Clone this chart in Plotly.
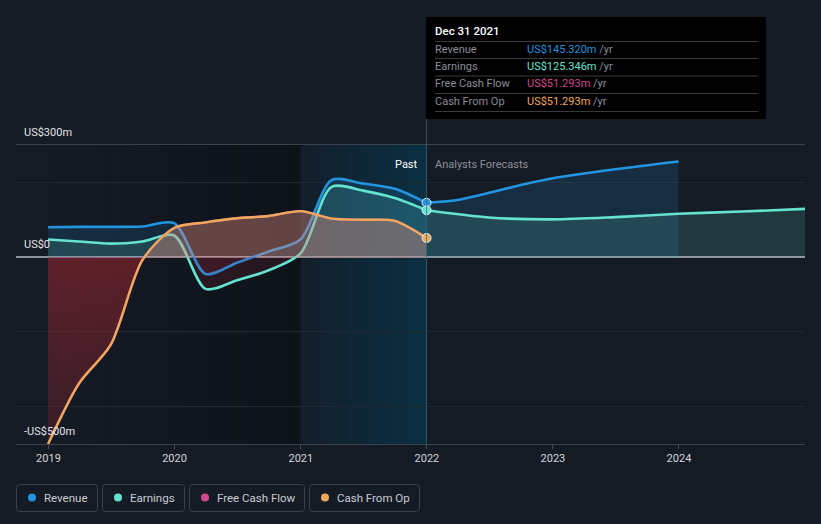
import plotly.graph_objects as go
import pandas as pd

# ---------------- data (US$ millions) ----------------
past_dates = ["2018-12-31", "2019-03-31", "2019-06-30", "2019-09-30", "2019-12-31",
              "2020-03-31", "2020-06-30", "2020-09-30", "2020-12-31",
              "2021-03-31", "2021-06-30", "2021-09-30", "2021-12-31"]
revenue_past = [80, 81, 81, 82, 91, -45, -15, 15, 47, 206, 197, 183, 145.320]
earnings_past = [47, 42, 36, 42, 58, -85, -62, -35, 10, 188, 178, 158, 125.346]
fcf_past = [-500, -337, -235, -8, 78, 93, 104, 110, 123, 103, 100, 97, 51.293]
cfo_past = [-500, -337, -235, -8, 78, 93, 104, 110, 123, 103, 100, 97, 51.293]

rev_fc_dates = ["2021-12-31", "2022-03-31", "2022-06-30", "2022-09-30", "2022-12-31",
                "2023-06-30", "2023-12-31"]
revenue_fc = [145.320, 153, 172, 193, 211, 235, 256]
earn_fc_dates = ["2021-12-31", "2022-06-30", "2022-12-31", "2023-06-30", "2023-12-31",
                 "2024-06-30", "2024-12-31"]
earnings_fc = [125.346, 106, 101, 107, 116, 122, 129]

year_ticks = ["2019-01-01", "2020-01-01", "2021-01-01", "2022-01-01", "2023-01-01", "2024-01-01"]
year_labels = ["2019", "2020", "2021", "2022", "2023", "2024"]

series_names = ["Revenue", "Earnings", "Free Cash Flow", "Cash From Op"]
tooltip_values = ["US$145.320m", "US$125.346m", "US$51.293m", "US$51.293m"]
tooltip_date = "Dec 31 2021"

# ---------------- styles ----------------
C_REV = "#2394df"
C_EARN = "#64e3cf"
C_FCF = "#d14a8b"
C_CFO = "#eeaa5c"
COLORS = [C_REV, C_EARN, C_FCF, C_CFO]
BG = "#151b25"
FONT = "Roboto"

YMIN, YMAX = -500, 300
W, H = 821, 524
ML, MR, MT, MB = 16, 16, 145, 80
PW, PH = W - ML - MR, H - MT - MB


def px_x(p):
    return (p - ML) / PW


def px_y(p):
    return (H - MB - p) / PH


def grad(pos, neg_top, neg_bot=None):
    if neg_bot is None:
        neg_bot = neg_top
    z = (0 - YMIN) / (YMAX - YMIN)
    return dict(type="vertical", start=YMIN, stop=YMAX,
                colorscale=[[0, neg_bot], [z, neg_top], [z + 0.0001, pos], [1, pos]])


fig = go.Figure()

spl = dict(shape="spline", smoothing=0.8)

# revenue
for d, v in [(past_dates, revenue_past), (rev_fc_dates, revenue_fc)]:
    fig.add_trace(go.Scatter(x=d, y=v, mode="lines", line=dict(color=C_REV, width=2.6, **spl),
                             fill="tozeroy",
                             fillgradient=grad("rgba(35,148,223,0.15)", "rgba(170,40,60,0.15)"),
                             hoverinfo="skip", showlegend=False))
# earnings
for d, v in [(past_dates, earnings_past), (earn_fc_dates, earnings_fc)]:
    fig.add_trace(go.Scatter(x=d, y=v, mode="lines", line=dict(color=C_EARN, width=2.6, **spl),
                             fill="tozeroy",
                             fillgradient=grad("rgba(100,227,207,0.15)", "rgba(170,40,60,0.15)"),
                             hoverinfo="skip", showlegend=False))
# free cash flow (hidden under cash from op)
fig.add_trace(go.Scatter(x=past_dates, y=fcf_past, mode="lines", line=dict(color=C_FCF, width=2.4, **spl),
                         hoverinfo="skip", showlegend=False))
# cash from op
fig.add_trace(go.Scatter(x=past_dates, y=cfo_past, mode="lines", line=dict(color=C_CFO, width=2.4, **spl),
                         fill="tozeroy",
                         fillgradient=grad("rgba(225,140,125,0.40)", "rgba(170,40,50,0.5)",
                                           "rgba(170,40,50,0.22)"),
                         hoverinfo="skip", showlegend=False))

# end-of-past markers
for vals, col in [(revenue_past, C_REV), (earnings_past, C_EARN), (cfo_past, C_CFO)]:
    fig.add_trace(go.Scatter(x=[past_dates[-1]], y=[vals[-1]], mode="markers",
                             marker=dict(size=9, color=col, line=dict(color="#e8eef2", width=1)),
                             hoverinfo="skip", showlegend=False))

shapes = []
# dark gradient over past (2019 -> 2021): adjacent strips, no overlap
n = 40
edges = pd.date_range("2018-12-31", "2021-01-01", periods=n + 1)
for i in range(n):
    a = 0.30 * (i + 0.5) / n
    shapes.append(dict(type="rect", xref="x", yref="paper", x0=edges[i], x1=edges[i + 1],
                       y0=0, y1=1, fillcolor=f"rgba(0,0,0,{a:.3f})", line=dict(width=0), layer="below"))
# teal gradient over last year of past
edges = pd.date_range("2021-01-01", "2021-12-31", periods=n + 1)
for i in range(n):
    a = 0.12 + 0.5 * (i + 0.5) / n
    shapes.append(dict(type="rect", xref="x", yref="paper", x0=edges[i], x1=edges[i + 1],
                       y0=0, y1=1, fillcolor=f"rgba(5,62,88,{a:.3f})", line=dict(width=0), layer="below"))
# cursor line
shapes.append(dict(type="line", xref="x", yref="paper", x0=past_dates[-1], x1=past_dates[-1],
                   y0=0, y1=px_y(119), line=dict(color="rgba(60,105,125,0.7)", width=1)))
# tooltip box
shapes.append(dict(type="rect", xref="paper", yref="paper", x0=px_x(426), x1=px_x(766),
                   y0=px_y(119), y1=px_y(17), fillcolor="#000000", line=dict(width=0)))
for yy in [41.5, 58.5, 76, 93.5, 111.5]:
    shapes.append(dict(type="line", xref="paper", yref="paper", x0=px_x(435), x1=px_x(758),
                       y0=px_y(yy), y1=px_y(yy), line=dict(color="#3a3a3a", width=1)))

annotations = []
# tooltip text
annotations.append(dict(xref="paper", yref="paper", x=px_x(433), y=px_y(31), xanchor="left", yanchor="middle",
                        text=tooltip_date, showarrow=False,
                        font=dict(family=FONT, size=11.5, color="#ffffff", weight=500)))
for i, (nm, val, col) in enumerate(zip(series_names, tooltip_values, COLORS)):
    yc = [49.5, 66.5, 84, 101.5][i]
    annotations.append(dict(xref="paper", yref="paper", x=px_x(433), y=px_y(yc), xanchor="left",
                            yanchor="middle", text=nm, showarrow=False,
                            font=dict(family=FONT, size=11, color="#8a8e96")))
    annotations.append(dict(xref="paper", yref="paper", x=px_x(525), y=px_y(yc), xanchor="left",
                            yanchor="middle", text=f"<span style='color:{col}'>{val}</span> /yr",
                            showarrow=False, font=dict(family=FONT, size=11, color="#8a8e96")))

# y axis labels
for v, t in [(300, "US$300m"), (0, "US$0"), (-500, "-US$500m")]:
    annotations.append(dict(xref="paper", yref="y", x=px_x(22), y=v, xanchor="left", yanchor="middle",
                            yshift=12.5, text=t, showarrow=False,
                            font=dict(family=FONT, size=11, color="#e2e4e8")))

# past / forecast labels
annotations.append(dict(xref="x", yref="paper", x=past_dates[-1], y=px_y(156), xanchor="right",
                        xshift=-7, text="Past", showarrow=False,
                        font=dict(family=FONT, size=11, color="#ffffff")))
annotations.append(dict(xref="x", yref="paper", x=past_dates[-1], y=px_y(156), xanchor="left",
                        xshift=6, text="Analysts Forecasts", showarrow=False,
                        font=dict(family=FONT, size=11, color="#8b9098")))


def rounded_path(w, h, r):
    return (f"M {r},0 L {w - r},0 Q {w},0 {w},{-r} L {w},{-(h - r)} Q {w},{-h} {w - r},{-h} "
            f"L {r},{-h} Q 0,{-h} 0,{-(h - r)} L 0,{-r} Q 0,0 {r},0 Z")


# legend (boxed items)
boxes = [(16.5, 97.5), (102.5, 184.5), (189.5, 304.5), (309.5, 419.5)]
for (bx0, bx1), nm, col in zip(boxes, series_names, COLORS):
    shapes.append(dict(type="path", xref="paper", yref="paper", xsizemode="pixel", ysizemode="pixel",
                       xanchor=px_x(bx0), yanchor=px_y(484.5), path=rounded_path(bx1 - bx0, 27, 3),
                       line=dict(color="#3b414b", width=1), fillcolor="rgba(0,0,0,0)"))
    cx = bx0 + 15.5
    shapes.append(dict(type="circle", xref="paper", yref="paper", xsizemode="pixel", ysizemode="pixel",
                       xanchor=px_x(cx), yanchor=px_y(497.5), x0=-4, x1=4, y0=-4, y1=4,
                       fillcolor=col, line=dict(width=0)))
    annotations.append(dict(xref="paper", yref="paper", x=px_x(cx + 10), y=px_y(497.5), xanchor="left",
                            yanchor="middle", text=nm, showarrow=False,
                            font=dict(family=FONT, size=11.5, color="#c9ccd2")))

fig.update_layout(
    width=W, height=H,
    margin=dict(l=ML, r=MR, t=MT, b=MB, pad=0),
    paper_bgcolor=BG, plot_bgcolor=BG,
    font=dict(family=FONT, color="#d0d2d6"),
    showlegend=False,
    shapes=shapes, annotations=annotations,
    xaxis=dict(type="date", range=["2018-09-29", "2024-12-31"], tickvals=year_ticks, ticktext=year_labels,
               showgrid=False, showline=True, linecolor="#3c424c", linewidth=1, mirror=True,
               ticks="outside", ticklen=4, tickcolor="#454b55", tickfont=dict(size=11, color="#d4d6da"),
               zeroline=False, fixedrange=True),
    yaxis=dict(range=[YMIN, YMAX], tickvals=[-400, -200, 0, 200], showticklabels=False,
               showgrid=True, gridcolor="#222832", gridwidth=1,
               zeroline=True, zerolinecolor="#8e929a", zerolinewidth=2, fixedrange=True),
)

fig.write_html("out.html", config={"displayModeBar": False},
               post_script="document.body.style.margin='0';document.body.style.overflow='hidden';"
                           "document.body.style.background='" + BG + "';")
